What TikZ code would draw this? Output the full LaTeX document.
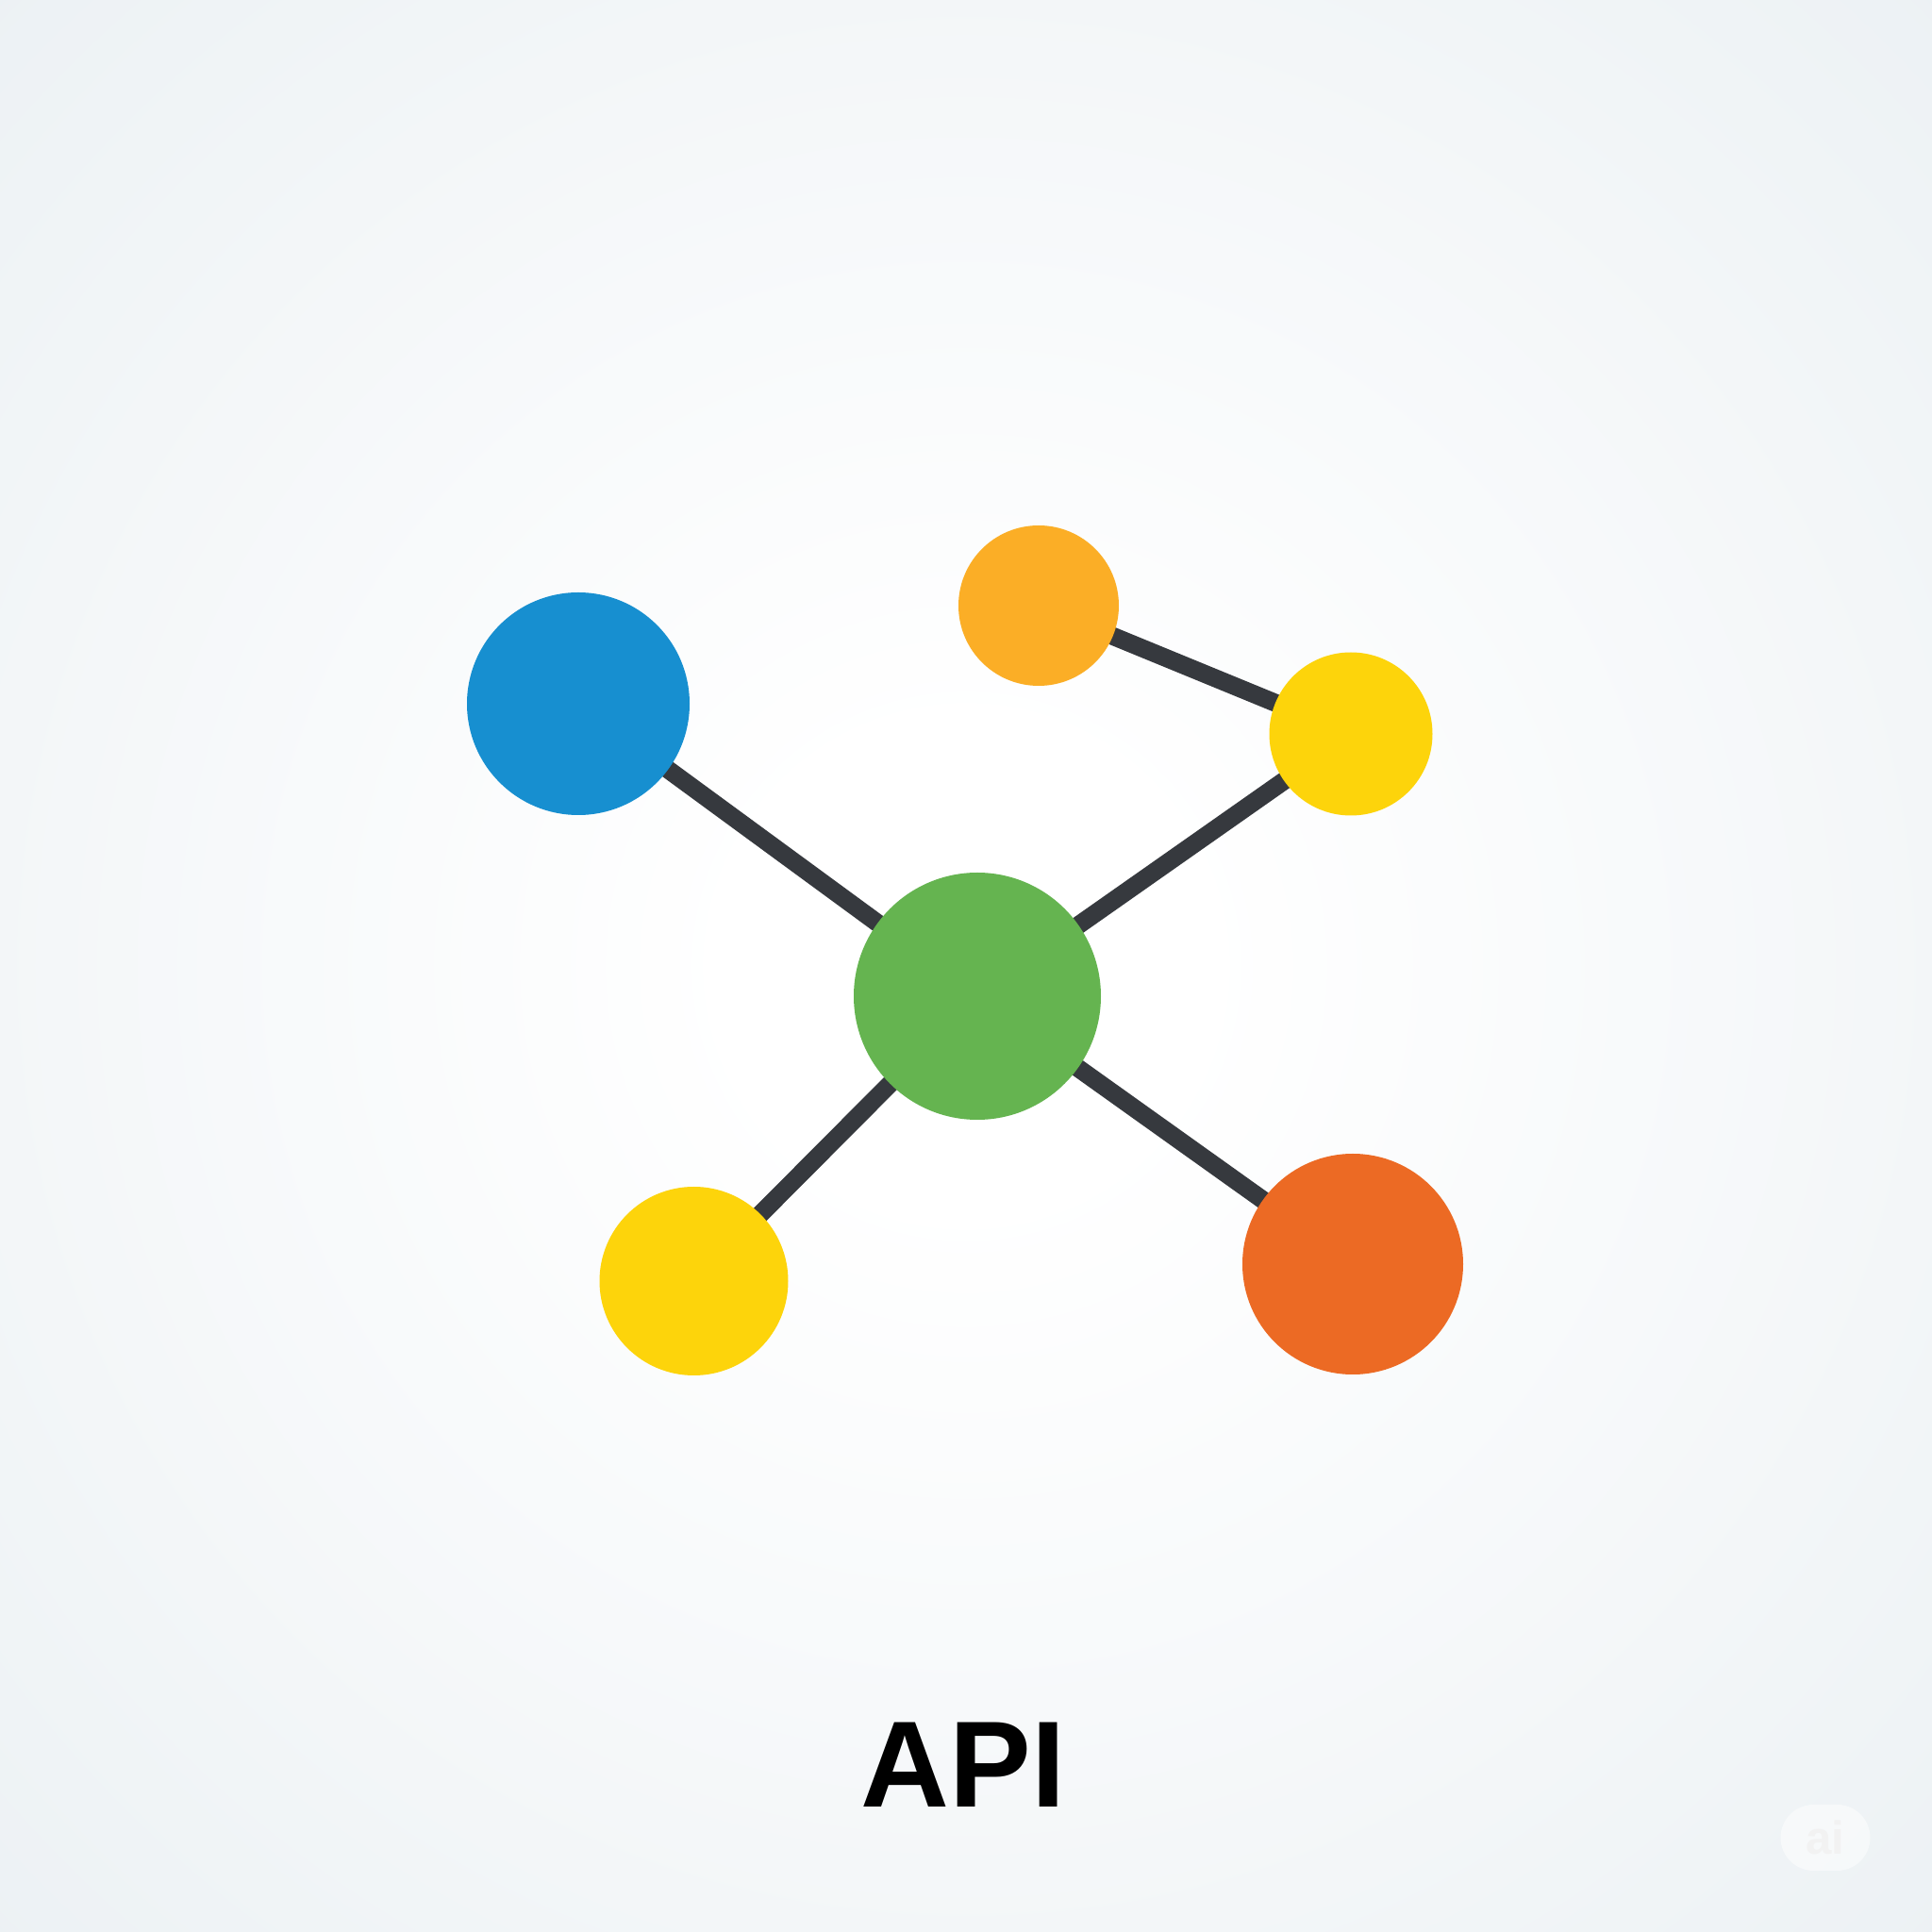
\documentclass[tikz,border=0pt]{standalone}
\usepackage{fontspec}
\setmainfont{Liberation Sans}
\usetikzlibrary{backgrounds}
\definecolor{bgedge}{RGB}{236,241,244}
\definecolor{apiblue}{RGB}{23,143,208}
\definecolor{apiorange}{RGB}{251,174,38}
\definecolor{apiyellow}{RGB}{253,212,11}
\definecolor{apigreen}{RGB}{101,180,80}
\definecolor{apired}{RGB}{236,106,36}
\definecolor{linkgray}{RGB}{54,57,62}
\pgfdeclareradialshading{bgglow}{\pgfpoint{0bp}{0bp}}{color(0bp)=(white); color(6bp)=(white); color(20bp)=(bgedge!45!white); color(36bp)=(bgedge); color(50bp)=(bgedge)}
\tikzset{
  apinode/.style={circle,inner sep=0pt,fill=#1},
  link/.style={draw=linkgray,line width=0.19cm}
}
\begin{document}
\begin{tikzpicture}
  \useasboundingbox (0,0) rectangle (20.48,20.48);
  % circles
  \node[apinode=apiblue,minimum size=2.36cm]   (blue)    at (6.13,13.02) {};
  \node[apinode=apiorange,minimum size=1.70cm] (orange)  at (11.01,14.06) {};
  \node[apinode=apiyellow,minimum size=1.73cm] (yellowR) at (14.32,12.70) {};
  \node[apinode=apigreen,minimum size=2.62cm]  (green)   at (10.36,9.92) {};
  \node[apinode=apiyellow,minimum size=2.00cm] (yellowL) at (7.355,6.90) {};
  \node[apinode=apired,minimum size=2.34cm]    (red)     at (14.34,7.08) {};
  % label
  \node[font=\bfseries\fontsize{37}{44}\selectfont] (api) at (10.21,1.77) {API};
  % watermark
  \node[rounded corners=0.35cm,fill=white,fill opacity=0.5,text=black!5,text opacity=1,
        minimum width=0.95cm,minimum height=0.7cm,font=\bfseries\fontsize{14}{16}\selectfont]
        (mark) at (19.35,1.0) {ai};
  % background glow and links
  \begin{scope}[on background layer]
    \fill[bgedge] (0,0) rectangle (20.48,20.48);
    \shade[shading=bgglow] (0,0) rectangle (20.48,20.48);
    \draw[link] (blue.center) -- (green.center);
    \draw[link] (orange.center) -- (yellowR.center);
    \draw[link] (green.center) -- (yellowR.center);
    \draw[link] (green.center) -- (yellowL.center);
    \draw[link] (green.center) -- (red.center);
  \end{scope}
\end{tikzpicture}
\end{document}
